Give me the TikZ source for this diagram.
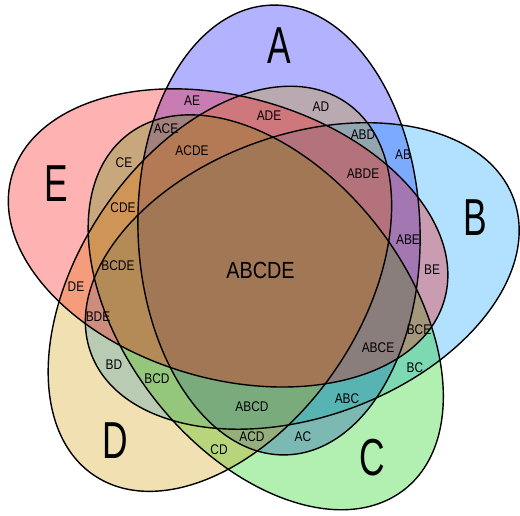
\documentclass[tikz,border=0pt]{standalone}
\usepackage{fontspec}
\setmainfont{Liberation Sans}
\definecolor{colA}{HTML}{0000FF}
\definecolor{colB}{HTML}{0099FF}
\definecolor{colC}{HTML}{00CC00}
\definecolor{colD}{HTML}{CC9900}
\definecolor{colE}{HTML}{FF0000}
\tikzset{petal/.style = {rotate around = {#1:(259, 269)}, rotate around = {2:(279, 230)}}}
\tikzset{leaf/.style = {fill opacity = 0.3}}
\tikzset{rim/.style = {draw = black, line width = 1.05pt}}
\tikzset{region/.style = {font = \fontsize{10.5}{12}\selectfont, xscale = 0.85, inner sep = 0}}
\tikzset{core/.style = {font = \fontsize{17.5}{20}\selectfont, xscale = 0.85, inner sep = 0}}
\tikzset{big/.style = {font = \fontsize{39}{42}\selectfont, xscale = 0.68, inner sep = 0}}
\begin{document}
\begin{tikzpicture}[x = 0.75pt, y = -0.75pt]
      \useasboundingbox (0, 0) rectangle (520, 516);

      \fill [leaf, fill = colA, petal = 0] (279, 230) ellipse [x radius = 141, y radius = 225];
      \fill [leaf, fill = colB, petal = -72] (279, 230) ellipse [x radius = 141, y radius = 225];
      \fill [leaf, fill = colC, petal = -144] (279, 230) ellipse [x radius = 141, y radius = 225];
      \fill [leaf, fill = colD, petal = -216] (279, 230) ellipse [x radius = 141, y radius = 225];
      \fill [leaf, fill = colE, petal = -288] (279, 230) ellipse [x radius = 141, y radius = 225];

      \draw [rim, petal = 0] (279, 230) ellipse [x radius = 141, y radius = 225];
      \draw [rim, petal = -72] (279, 230) ellipse [x radius = 141, y radius = 225];
      \draw [rim, petal = -144] (279, 230) ellipse [x radius = 141, y radius = 225];
      \draw [rim, petal = -216] (279, 230) ellipse [x radius = 141, y radius = 225];
      \draw [rim, petal = -288] (279, 230) ellipse [x radius = 141, y radius = 225];

      \node [big] (a) at (279, 46) {A};
      \node [big] (b) at (475, 218) {B};
      \node [big] (c) at (372, 458) {C};
      \node [big] (d) at (115, 441) {D};
      \node [big] (e) at (56, 184) {E};

      \node [core] (abcde) at (260.5, 270) {ABCDE};

      \node [region] (ae) at (192, 101) {AE};
      \node [region] (ade) at (269, 116) {ADE};
      \node [region] (ad) at (321, 107) {AD};
      \node [region] (ace) at (166, 129) {ACE};
      \node [region] (acde) at (192, 151) {ACDE};
      \node [region] (abd) at (363, 135) {ABD};
      \node [region] (ab) at (403, 155) {AB};
      \node [region] (abde) at (363, 174) {ABDE};
      \node [region] (ce) at (124, 163) {CE};
      \node [region] (cde) at (123, 208) {CDE};
      \node [region] (bcde) at (118, 266) {BCDE};
      \node [region] (de) at (76, 287) {DE};
      \node [region] (bde) at (98, 317) {BDE};
      \node [region] (bd) at (114, 365) {BD};
      \node [region] (bcd) at (157, 379) {BCD};
      \node [region] (abcd) at (252, 407) {ABCD};
      \node [region] (acd) at (252, 437) {ACD};
      \node [region] (cd) at (219, 450) {CD};
      \node [region] (ac) at (303, 437) {AC};
      \node [region] (abc) at (347, 399) {ABC};
      \node [region] (bc) at (415, 368) {BC};
      \node [region] (abce) at (378, 348) {ABCE};
      \node [region] (bce) at (419, 330) {BCE};
      \node [region] (be) at (432, 270) {BE};
      \node [region] (abe) at (408, 240) {ABE};
    \end{tikzpicture}
\end{document}
